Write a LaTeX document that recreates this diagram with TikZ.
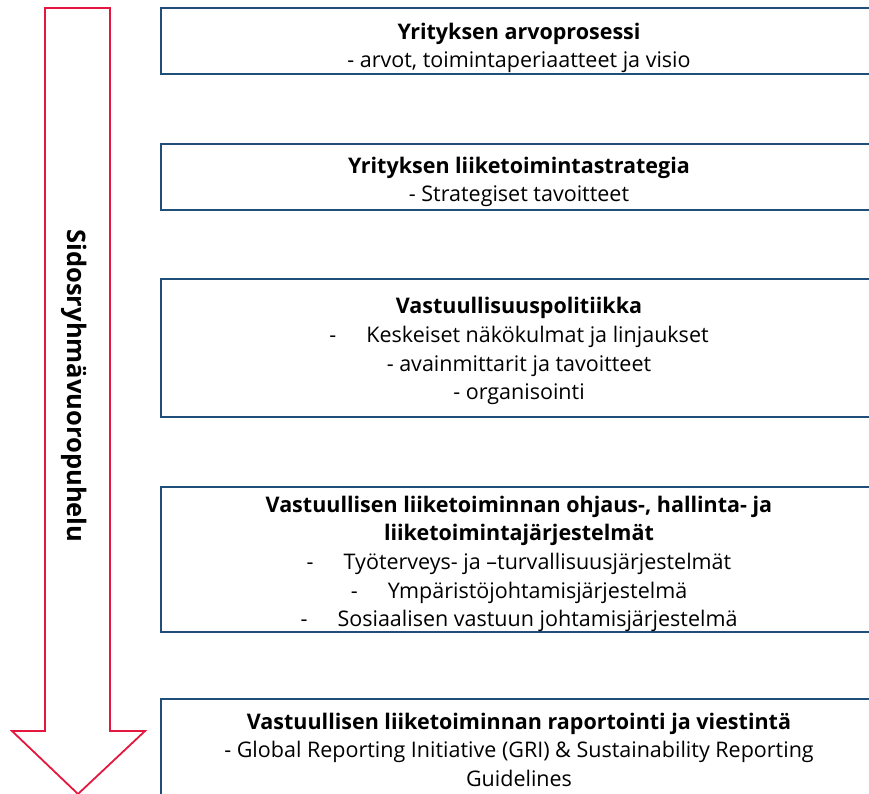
\documentclass[tikz,border=0pt]{standalone}
\usepackage{fontspec}
\setmainfont{Open Sans}
\usepackage{tikz}
\definecolor{boxblue}{HTML}{1F4E79}
\definecolor{arrowred}{HTML}{E4173E}
\newcommand{\toppad}[1]{\rule{0pt}{#1}}
\tikzset{
  stagebox/.style={draw=boxblue,line width=2.2pt,rectangle,minimum width=716pt,align=center,inner sep=0pt,
    font=\fontsize{21.5}{28.7}\selectfont},
  bigarrow/.style={draw=arrowred,line width=1.8pt,line join=miter}
}
\begin{document}
\begin{tikzpicture}[x=1pt,y=-1pt]
\useasboundingbox (0,0) rectangle (869,794);
\clip (0,0) rectangle (869,794);
\draw[bigarrow] (45,8) -- (110,8) -- (110,731) -- (145,731) -- (78,794) -- (12,731) -- (45,731) -- cycle;
\node[rotate=-90,font=\fontsize{25.5}{28}\selectfont\bfseries] (dialog) at (74,386) {Sidosryhmävuoropuhelu};
\node[stagebox,minimum height=66pt] (arvo) at (519,41) {\toppad{30pt}\textbf{Yrityksen arvoprosessi}\\- arvot, toimintaperiaatteet ja visio};
\node[stagebox,minimum height=66pt] (strategia) at (519,177) {\toppad{26pt}\textbf{Yrityksen liiketoimintastrategia}\\- Strategiset tavoitteet};
\node[stagebox,minimum height=138pt] (politiikka) at (519,348) {\toppad{23pt}\textbf{Vastuullisuuspolitiikka}\\-\hspace{1.4em}Keskeiset näkökulmat ja linjaukset\\- avainmittarit ja tavoitteet\\- organisointi};
\node[stagebox,minimum height=145pt] (jarjestelmat) at (519,559.5) {\toppad{25pt}\textbf{Vastuullisen liiketoiminnan ohjaus-, hallinta- ja}\\\textbf{liiketoimintajärjestelmät}\\-\hspace{1.4em}Työterveys- ja –turvallisuusjärjestelmät\\-\hspace{1.4em}Ympäristöjohtamisjärjestelmä\\-\hspace{1.4em}Sosiaalisen vastuun johtamisjärjestelmä};
\node[stagebox,minimum height=97pt] (raportointi) at (519,747.5) {\toppad{21pt}\textbf{Vastuullisen liiketoiminnan raportointi ja viestintä}\\- Global Reporting Initiative (GRI) \& Sustainability Reporting\\Guidelines};
\end{tikzpicture}
\end{document}
